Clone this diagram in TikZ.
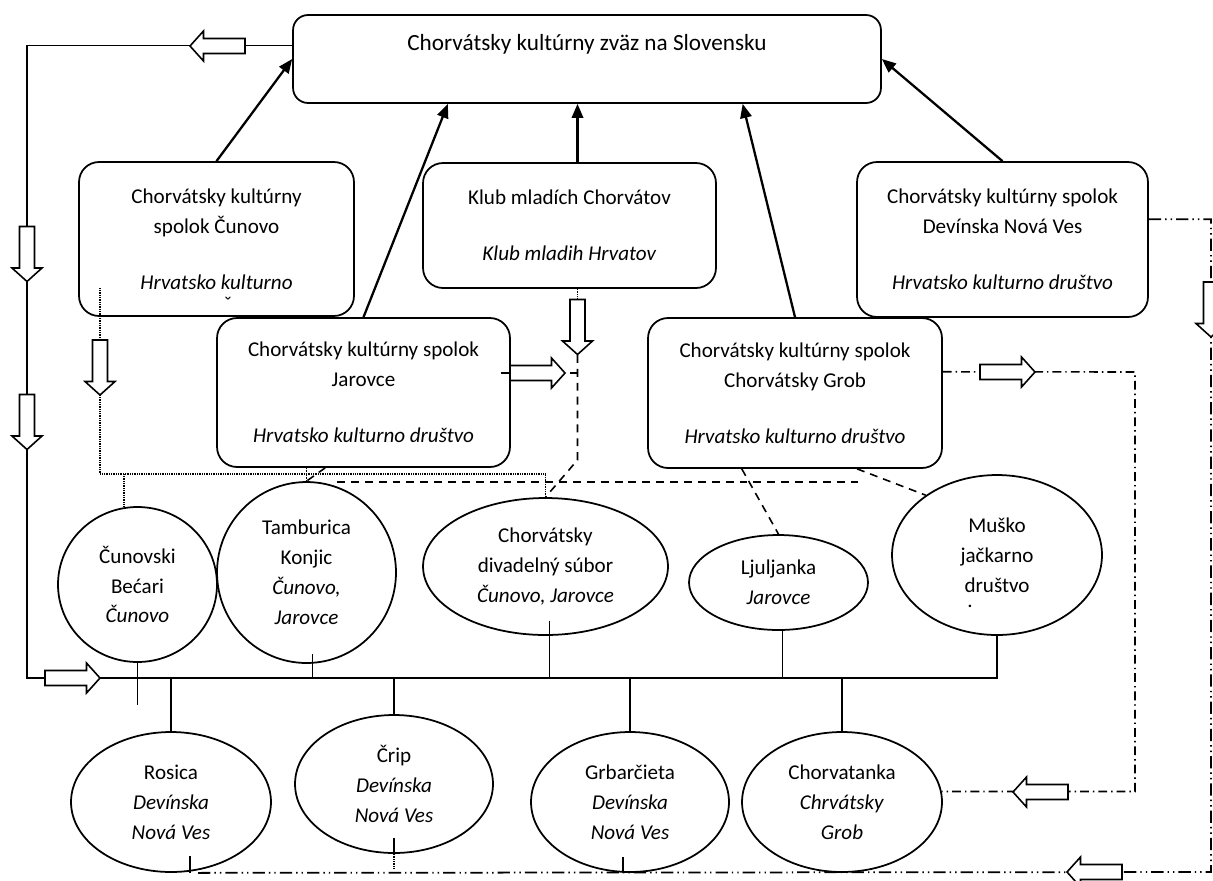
\documentclass[tikz,border=0pt]{standalone}
\usepackage{fontspec}
\setmainfont{Carlito}
\usetikzlibrary{positioning, calc, arrows.meta, shapes.geometric}

\begin{document}
\begin{tikzpicture}[x=0.02cm, y=-0.02cm, font=\fontsize{12}{17}\selectfont,
    orgbox/.style={draw, rounded corners=4mm, line width=1pt, align=center, inner sep=0pt},
    ensemble/.style={draw, ellipse, line width=1pt, align=center, inner sep=0pt},
    feeds/.style={line width=1.3pt, -{Triangle[length=8pt, width=6.5pt]}},
    bus/.style={line width=1pt},
    dashln/.style={line width=0.9pt, dash pattern=on 4.5pt off 3.4pt},
    dotln/.style={line width=0.7pt, dash pattern=on 0.5pt off 0.5pt},
    dashdotln/.style={line width=0.9pt, dash pattern=on 5pt off 2.3pt on 0.8pt off 2.3pt},
    dashdotdotln/.style={line width=1pt, dash pattern=on 7pt off 2.3pt on 0.8pt off 2.3pt on 0.8pt off 2.3pt},
    blkarrow/.pic={\draw[line width=0.9pt, fill=white] (-27.5,-7.5) -- (14,-7.5) -- (14,-15)
        -- (27.5,0) -- (14,15) -- (14,7.5) -- (-27.5,7.5) -- cycle;}]
    \useasboundingbox (0,0) rectangle (1213,880);
    \clip (0,0) rectangle (1213,880);

    % union and clubs
    \node[orgbox, rounded corners=3mm, minimum width=11.76cm, minimum height=1.76cm,
        font=\fontsize{13.2}{17}\selectfont, text height=20pt, text depth=30pt]
        (zvaz) at (587,59) {Chorvátsky kultúrny zväz na Slovensku};
    \node[orgbox, minimum width=5.5cm, minimum height=3.08cm] (cunovo) at (216.5,239)
        {Chorvátsky kultúrny\\spolok Čunovo\\[15pt]\textit{Hrvatsko kulturno}};
    \node[anchor=base, inner sep=0pt, text height=3pt] (caron) at (228,311) {ˇ};
    \node[orgbox, minimum width=5.86cm, minimum height=2.5cm] (klub) at (569.5,225.5)
        {Klub mladích Chorvátov\\[15pt]\textit{Klub mladih Hrvatov}};
    \node[orgbox, minimum width=5.82cm, minimum height=3.1cm] (devin) at (1002.5,239.5)
        {Chorvátsky kultúrny spolok\\Devínska Nová Ves\\[15pt]\textit{Hrvatsko kulturno društvo}};
    \node[orgbox, minimum width=5.86cm, minimum height=2.98cm] (jarovce) at (363.5,392.5)
        {Chorvátsky kultúrny spolok\\Jarovce\\[15pt]\textit{Hrvatsko kulturno društvo}};
    \node[orgbox, minimum width=5.88cm, minimum height=3cm] (grob) at (795,393)
        {Chorvátsky kultúrny spolok\\Chorvátsky Grob\\[15pt]\textit{Hrvatsko kulturno društvo}};

    % ensembles
    \node[ensemble, minimum width=3.18cm, minimum height=3.1cm] (cunB) at (137.5,584.5)
        {Čunovski\\Bećari\\\textit{Čunovo}};
    \node[ensemble, minimum width=3.58cm, minimum height=3.62cm] (tamb) at (306.5,572.5)
        {Tamburica\\Konjic\\\textit{Čunovo,}\\\textit{Jarovce}};
    \node[ensemble, minimum width=4.9cm, minimum height=2.74cm] (divad) at (545.5,566.5)
        {Chorvátsky\\divadelný súbor\\\textit{Čunovo, Jarovce}};
    \node[ensemble, minimum width=3.58cm, minimum height=1.9cm] (ljul) at (778.5,582.5)
        {Ljuljanka\\\textit{Jarovce}};
    \node[ensemble, minimum width=4.2cm, minimum height=3.2cm] (musko) at (997,555)
        {Muško\\jačkarno\\društvo};
    \node[anchor=base, inner sep=0pt, text height=1.5pt] (muskodot) at (970,607) {.};
    \node[ensemble, minimum width=4cm, minimum height=2.8cm] (rosica) at (171,802)
        {Rosica\\\textit{Devínska}\\\textit{Nová Ves}};
    \node[ensemble, minimum width=3.96cm, minimum height=2.76cm] (crip) at (394,784)
        {Črip\\\textit{Devínska}\\\textit{Nová Ves}};
    \node[ensemble, minimum width=3.96cm, minimum height=2.8cm] (grbar) at (630,802)
        {Grbarčieta\\\textit{Devínska}\\\textit{Nová Ves}};
    \node[ensemble, minimum width=4cm, minimum height=2.8cm] (chorv) at (842,802)
        {Chorvatanka\\\textit{Chrvátsky}\\\textit{Grob}};

    % membership arrows
    \coordinate (kx) at ($(klub.north)+(8,0)$);
    \draw[feeds] (cunovo.north) -- (zvaz.west);
    \draw[feeds] (jarovce.north) -- ($(zvaz.south west)!0.264!(zvaz.south east)$);
    \draw[feeds] (kx) -- (kx |- zvaz.south);
    \draw[feeds] (grob.north) -- ($(zvaz.south west)!0.764!(zvaz.south east)$);
    \draw[feeds] (devin.north) -- (zvaz.east);

    % left loop and bus
    \coordinate (zl) at ($(zvaz.north west)!0.35!(zvaz.south west)$);
    \coordinate (busL) at (27,678);
    \draw[bus] (zl) -| (busL) -- (musko.south |- busL) -- (musko.south);
    \pic[rotate=180] at (217.5,46) {blkarrow};
    \pic[rotate=-90] at (27,254) {blkarrow};
    \pic[rotate=-90] at (27,422) {blkarrow};
    \pic at (72.5,678) {blkarrow};

    \coordinate (cunEnd) at (137.5,705);
    \draw[bus] (cunB.south) -- (cunEnd);
    \draw[bus] ($(tamb.south)+(6,-10)$) coordinate (t1) -- (t1 |- busL);
    \draw[bus] ($(divad.south)+(4,-15)$) coordinate (d1) -- (d1 |- busL);
    \draw[bus] ($(ljul.south)+(4,-2)$) coordinate (l1) -- (l1 |- busL);
    \draw[bus] (rosica.north |- busL) -- (rosica.north);
    \draw[bus] (crip.north |- busL) -- (crip.north);
    \draw[bus] (grbar.north |- busL) -- (grbar.north);
    \draw[bus] (chorv.north |- busL) -- (chorv.north);
    \draw[bus] ($(rosica.south)+(19,0)$) -- ++(0,-17);
    \draw[bus] (crip.south) -- ++(0,-16);
    \draw[dotln] (crip.south) -- ++(0,15);
    \draw[bus] ($(grbar.south)+(-7,0)$) -- ++(0,-16);

    % dotted links
    \coordinate (dA) at (100,288);
    \coordinate (dJ) at (100,474);
    \draw[dotln] (dA) -- (dJ) -| (divad.north);
    \draw[dotln] (cunB.100 |- dJ) -- (cunB.100);
    \draw[dotln] (jarovce.south -| tamb.north) -- (tamb.north);
    \pic[rotate=-90] at (100,367.5) {blkarrow};

    % dashed links
    \coordinate (kA) at (577.5,355);
    \coordinate (kB) at (577.5,460);
    \coordinate (jE) at ($(jarovce.north east)!0.37!(jarovce.south east)$);
    \draw[dotln] (kx |- klub.south) -- ++(0,12);
    \draw[dashln] (kA) -- (kB) -- (divad.north);
    \draw[dashln] ($(jE)+(-10,0)$) -- (kA |- jE);
    \pic[rotate=-90] at (577.5,327) {blkarrow};
    \pic at (537.5,373) {blkarrow};
    \draw[dashln] ($(jarovce.south west)!0.37!(jarovce.south east)$) -- (tamb.north);
    \coordinate (hL) at (337,482);
    \coordinate (hR) at (858,482);
    \draw[dashln] (hL) -- (hR);
    \draw[dashln] ($(grob.south west)!0.32!(grob.south east)$) -- (ljul.north);
    \draw[dashln] ($(grob.south west)!0.71!(grob.south east)$) -- (musko.140);

    % dash-dot routes
    \coordinate (gE) at ($(grob.north east)!0.36!(grob.south east)$);
    \coordinate (gR) at (1135,372);
    \draw[dashdotln] (gE) -- (gR) |- (chorv.6);
    \pic at (1007.5,372) {blkarrow};
    \pic[rotate=180] at (1040.5,792) {blkarrow};

    \coordinate (dE) at ($(devin.north east)!0.37!(devin.south east)$);
    \coordinate (eR) at (1211,872);
    \coordinate (botEnd) at ($(rosica.south)+(25,0)$);
    \draw[dashdotdotln] (dE) -| (eR) -- (botEnd);
    \pic[rotate=-90] at (1211,309.5) {blkarrow};
    \pic[rotate=180] at (1094.5,872) {blkarrow};
\end{tikzpicture}
\end{document}
